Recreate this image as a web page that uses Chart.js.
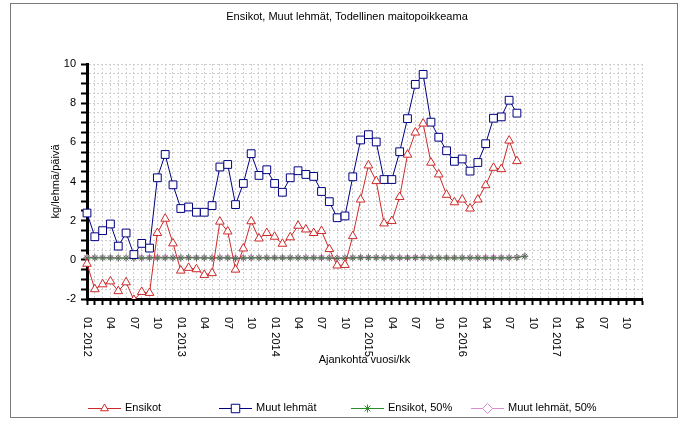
<!DOCTYPE html>
<html>
<head>
<meta charset="utf-8">
<script src="https://cdn.jsdelivr.net/npm/chart.js@4/dist/chart.umd.min.js"></script>
<style>
  body { margin: 0; background: #fff; }
  #wrap { position: relative; width: 684px; height: 422px; }
  #frame { position: absolute; left: 10px; top: 3px; width: 666px; height: 413px; border: 1px solid #7a7a7a; pointer-events: none; }
</style>
</head>
<body>
<div id="wrap">
  <canvas id="myChart" width="684" height="422"></canvas>
  <div id="frame"></div>
</div>
<script>
// x axis: one category per month, 01 2012 .. 12 2017
const years = [2012, 2013, 2014, 2015, 2016, 2017]
const months = ["01", "02", "03", "04", "05", "06", "07", "08", "09", "10", "11", "12"]
const shownMonths = ["01", "04", "07", "10"]

let categories = new Array()
let tickLabels = new Array()
years.forEach(y => {
    months.forEach(m => {
        categories.push(m + " " + y)
        if (m == "01") tickLabels.push(m + " " + y)
        else if (shownMonths.includes(m)) tickLabels.push(m)
        else tickLabels.push("")
    })
})

// kg/lehmä/päivä, 01 2012 .. 08 2016
const ensikot = [-0.2, -1.5, -1.25, -1.1, -1.6, -1.15, -2.05, -1.64, -1.69, 1.37, 2.1, 0.84,
    -0.55, -0.41, -0.48, -0.77, -0.68, 1.95, 1.45, -0.5, 0.58, 1.97, 1.09, 1.37,
    1.18, 0.82, 1.15, 1.74, 1.55, 1.37, 1.47, 0.55, -0.29, -0.26, 1.21, 3.08,
    4.82, 4.02, 1.86, 1.98, 3.21, 5.37, 6.5, 6.96, 4.96, 4.36, 3.32, 2.94,
    3.08, 2.62, 3.08, 3.81, 4.7, 4.63, 6.09, 5.04]
const muutLehmat = [2.39, 1.18, 1.49, 1.83, 0.7, 1.37, 0.27, 0.84, 0.6, 4.19, 5.38, 3.83,
    2.62, 2.7, 2.43, 2.43, 2.77, 4.74, 4.87, 2.82, 3.9, 5.42, 4.31, 4.6,
    3.9, 3.45, 4.19, 4.55, 4.36, 4.26, 3.49, 2.97, 2.15, 2.24, 4.24, 6.12,
    6.39, 6.02, 4.1, 4.1, 5.52, 7.21, 8.96, 9.47, 7.03, 6.26, 5.57, 5.03,
    5.15, 4.53, 4.97, 5.93, 7.23, 7.3, 8.15, 7.49]
// 50% reference lines, 01 2012 .. 09 2016
const ensikot50 = [0.1, 0.1, 0.1, 0.1, 0.09, 0.09, 0.08, 0.09, 0.1, 0.1, 0.1, 0.1,
    0.1, 0.11, 0.1, 0.1, 0.09, 0.1, 0.1, 0.08, 0.09, 0.1, 0.1, 0.1,
    0.1, 0.1, 0.1, 0.1, 0.1, 0.1, 0.1, 0.09, 0.08, 0.09, 0.1, 0.11,
    0.11, 0.11, 0.1, 0.1, 0.1, 0.1, 0.11, 0.11, 0.1, 0.1, 0.1, 0.1,
    0.1, 0.1, 0.1, 0.1, 0.1, 0.1, 0.1, 0.12, 0.18]
const muut50 = [0.13, 0.13, 0.12, 0.12, 0.11, 0.11, 0.1, 0.11, 0.12, 0.13, 0.13, 0.12,
    0.12, 0.13, 0.12, 0.12, 0.11, 0.12, 0.12, 0.1, 0.11, 0.12, 0.12, 0.12,
    0.12, 0.12, 0.12, 0.12, 0.12, 0.12, 0.12, 0.11, 0.1, 0.11, 0.12, 0.13,
    0.13, 0.13, 0.12, 0.12, 0.12, 0.12, 0.13, 0.13, 0.12, 0.12, 0.12, 0.12,
    0.12, 0.12, 0.12, 0.12, 0.12, 0.12, 0.12, 0.14, 0.2]

const fontFamily = '"Liberation Sans", Arial, sans-serif'
const fontSize = 11
const legendX = [88, 219, 351, 471]

// rotated month labels (read top to bottom)
const xLabelPlugin = {
    id: 'xLabels',
    afterDraw(chart) {
        const ctx = chart.ctx
        const xs = chart.scales.x
        ctx.save()
        ctx.font = fontSize + 'px ' + fontFamily
        ctx.fillStyle = '#000'
        ctx.textAlign = 'left'
        ctx.textBaseline = 'middle'
        tickLabels.forEach((t, i) => {
            if (!t) return
            ctx.save()
            ctx.translate(xs.getPixelForTick(i), chart.chartArea.bottom + 18)
            ctx.rotate(Math.PI / 2)
            ctx.fillText(t, 0, 0)
            ctx.restore()
        })
        ctx.restore()
    }
}

// legend row: line + marker, then text
const legendPlugin = {
    id: 'rowLegend',
    afterDraw(chart) {
        const ctx = chart.ctx
        const y = 408
        chart.data.datasets.forEach((ds, i) => {
            const x = legendX[i]
            ctx.save()
            ctx.strokeStyle = ds.borderColor
            ctx.lineWidth = 1
            ctx.beginPath()
            ctx.moveTo(x, y + 0.5)
            ctx.lineTo(x + 33, y + 0.5)
            ctx.stroke()
            const opts = {
                pointStyle: ds.pointStyle,
                radius: ds.legendRadius,
                rotation: 0,
                borderWidth: 1
            }
            ctx.fillStyle = '#fff'
            Chart.helpers.drawPoint(ctx, opts, x + 16.5, y + 0.5)
            ctx.fillStyle = '#000'
            ctx.font = fontSize + 'px ' + fontFamily
            ctx.textBaseline = 'middle'
            ctx.fillText(ds.label, x + 37, y)
            ctx.restore()
        })
    }
}

const ctx = document.getElementById('myChart')
const myChart = new Chart(ctx, {
    type: 'line',
    data: {
        labels: categories,
        datasets: [{
            label: 'Ensikot',
            data: ensikot,
            borderColor: '#cc2a2a',
            backgroundColor: '#ffffff',
            borderWidth: 1,
            pointStyle: 'triangle',
            pointRadius: 5,
            pointBorderWidth: 1,
            legendRadius: 4.5,
            tension: 0
        }, {
            label: 'Muut lehmät',
            data: muutLehmat,
            borderColor: '#000080',
            backgroundColor: '#ffffff',
            borderWidth: 1,
            pointStyle: 'rect',
            pointRadius: 5.5,
            pointBorderWidth: 1,
            legendRadius: 6,
            tension: 0
        }, {
            label: 'Ensikot, 50%',
            data: ensikot50,
            borderColor: '#2e8b2e',
            backgroundColor: '#2e8b2e',
            borderWidth: 1,
            pointStyle: 'star',
            pointRadius: 3.5,
            pointBorderColor: '#556b55',
            pointBorderWidth: 1,
            legendRadius: 4,
            tension: 0
        }, {
            label: 'Muut lehmät, 50%',
            data: muut50,
            borderColor: '#d98cd0',
            backgroundColor: '#ffffff',
            borderWidth: 1.5,
            pointStyle: 'rectRot',
            pointRadius: 3,
            pointBorderWidth: 1,
            legendRadius: 5,
            tension: 0
        }]
    },
    options: {
        responsive: false,
        animation: false,
        layout: {
            padding: { left: 10, right: 0, top: 0, bottom: 53 }
        },
        plugins: {
            legend: { display: false },
            tooltip: { enabled: false },
            title: {
                display: true,
                text: 'Ensikot, Muut lehmät, Todellinen maitopoikkeama',
                color: '#000',
                font: { family: fontFamily, size: fontSize, weight: 'normal' },
                padding: { top: 10, bottom: 40.8 }
            }
        },
        scales: {
            x: {
                offset: false,
                afterFit: function (scale) { scale.height = 70 },
                ticks: { display: false, autoSkip: false },
                grid: {
                    color: '#cfcfcf',
                    lineWidth: 1,
                    tickLength: 6,
                    tickWidth: 2,
                    tickColor: '#000'
                },
                border: { display: true, color: '#000', width: 3, dash: [2, 2] },
                title: {
                    display: true,
                    text: 'Ajankohta vuosi/kk',
                    color: '#000',
                    font: { family: fontFamily, size: fontSize },
                    padding: { top: 0, bottom: 2.5 }
                }
            },
            y: {
                min: -2,
                max: 10,
                afterFit: function (scale) { scale.width = 77 },
                ticks: {
                    stepSize: 0.5,
                    autoSkip: false,
                    padding: 5,
                    color: '#000',
                    font: { family: fontFamily, size: fontSize },
                    callback: v => (v % 2 === 0 ? v : '')
                },
                grid: {
                    color: '#cfcfcf',
                    lineWidth: 1,
                    tickLength: 6,
                    tickWidth: 2,
                    tickColor: '#000'
                },
                border: { display: true, color: '#000', width: 3, dash: [2, 2] },
                title: {
                    display: true,
                    text: 'kg/lehmä/päivä',
                    color: '#000',
                    font: { family: fontFamily, size: fontSize },
                    padding: { top: 39.5, bottom: 0 }
                }
            },
            // empty right-hand strip so the title centres over the frame
            yRight: {
                position: 'right',
                display: true,
                afterFit: function (scale) { scale.width = 42 },
                ticks: { display: false },
                grid: { display: false, drawTicks: false },
                border: { display: false }
            }
        }
    },
    plugins: [xLabelPlugin, legendPlugin]
});
</script>
</body>
</html>
